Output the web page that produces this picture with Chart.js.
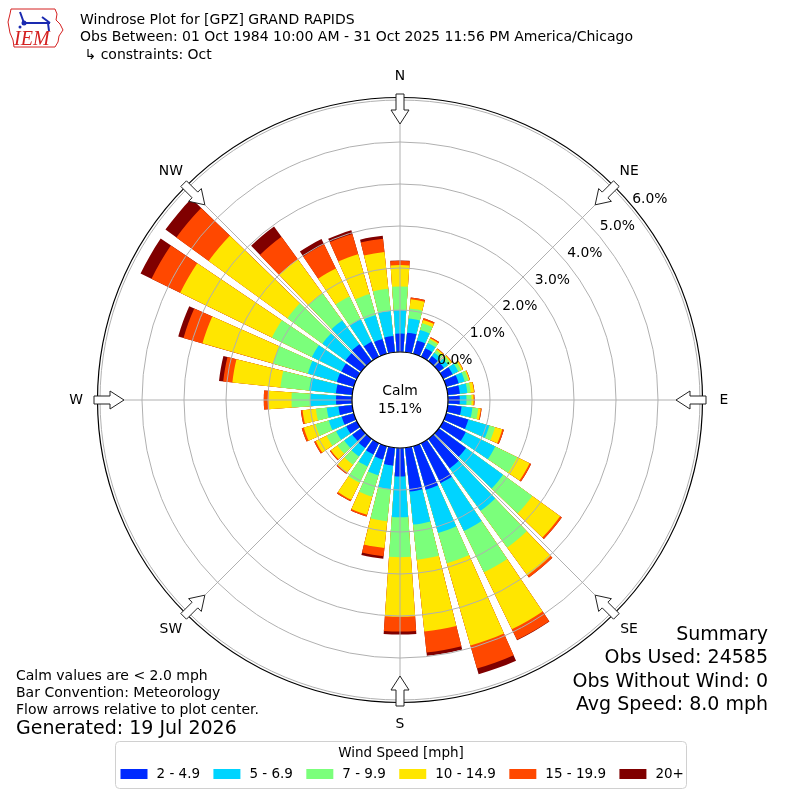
<!DOCTYPE html>
<html>
<head>
<meta charset="utf-8">
<script src="https://cdn.jsdelivr.net/npm/chart.js@4.4.0/dist/chart.umd.min.js"></script>
<style>
  html, body { margin: 0; padding: 0; background: #fff; }
  canvas { display: block; }
</style>
</head>
<body>
<canvas id="rose" width="800" height="800"></canvas>
<script>
// direction the wind blows from, 10 degree bins
const directions = [0,10,20,30,40,50,60,70,80,90,100,110,120,130,140,150,160,170,
                    180,190,200,210,220,230,240,250,260,270,280,290,300,310,320,330,340,350];

// percent of obs in each speed bin
const pct2to5   = [0.44,0.47,0.33,0.23,0.15,0.15,0.25,0.31,0.29,0.28,0.33,0.55,0.60,0.80,0.87,1.06,1.08,1.05,
                   0.68,0.43,0.33,0.30,0.27,0.26,0.28,0.30,0.33,0.38,0.39,0.42,0.41,0.46,0.50,0.40,0.37,0.39];
const pct5to7   = [0.56,0.34,0.26,0.14,0.10,0.12,0.15,0.15,0.18,0.16,0.26,0.52,0.78,1.09,1.25,1.27,1.07,0.79,
                   0.97,0.56,0.39,0.32,0.25,0.24,0.27,0.32,0.28,0.62,0.64,0.72,0.78,0.68,0.70,0.60,0.59,0.60];
const pct7to10  = [0.56,0.24,0.17,0.09,0.07,0.08,0.08,0.09,0.08,0.12,0.14,0.14,0.58,0.86,1.08,1.09,0.75,0.84,
                   0.95,0.77,0.53,0.43,0.24,0.20,0.25,0.33,0.26,0.44,0.69,0.86,1.06,1.03,0.80,0.60,0.52,0.53];
const pct10to15 = [0.51,0.22,0.08,0.03,0.04,0.03,0.04,0.03,0.08,0.05,0.06,0.18,0.33,0.82,0.82,1.51,2.04,1.72,
                   1.42,0.64,0.45,0.45,0.24,0.19,0.29,0.29,0.32,0.55,1.15,1.75,2.43,2.32,1.00,0.74,0.99,0.88];
const pct15to20 = [0.10,0.04,0.04,0.03,0.01,0.01,0.01,0.01,0.01,0.02,0.02,0.04,0.04,0.05,0.06,0.28,0.57,0.50,
                   0.35,0.20,0.04,0.04,0.03,0.03,0.04,0.05,0.04,0.11,0.22,0.47,0.76,0.95,0.66,0.64,0.50,0.32];
const pct20up   = [0.01,0,0,0,0,0,0,0,0,0,0,0,0,0,0,0.01,0.14,0.08,
                   0.07,0.06,0,0,0,0,0,0,0,0,0.10,0.13,0.29,0.32,0.30,0.14,0.09,0.07];

const speedLabels = ['2 - 4.9', '5 - 6.9', '7 - 9.9', '10 - 14.9', '15 - 19.9', '20+'];
const speedColors = ['#002aff', '#00d4ff', '#7bff7b', '#ffe600', '#ff4800', '#800000'];
const ringTicks = [0, 1, 2, 3, 4, 5, 6];
const compass = ['N', 'NE', 'E', 'SE', 'S', 'SW', 'W', 'NW'];
const calmPct = 15.1;

const titleLines = ['Windrose Plot for [GPZ] GRAND RAPIDS',
                    'Obs Between: 01 Oct 1984 10:00 AM - 31 Oct 2025 11:56 PM America/Chicago',
                    ' \u21b3 constraints: Oct'];
const notes = ['Calm values are < 2.0 mph', 'Bar Convention: Meteorology', 'Flow arrows relative to plot center.'];
const generated = 'Generated: 19 Jul 2026';
const summary = ['Summary', 'Obs Used: 24585', 'Obs Without Wind: 0', 'Avg Speed: 8.0 mph'];

const FONT = '"DejaVu Sans", sans-serif';

// stack the bins: each dataset is drawn from the center, slower ones on top
const bins = [pct2to5, pct5to7, pct7to10, pct10to15, pct15to20, pct20up];
const cumulative = [];
let running = directions.map(() => 0);
bins.forEach(b => {
    running = running.map((v, i) => v + b[i]);
    cumulative.push(running.slice());
});

// every direction is followed by an empty slot that makes the gap between bars
const labels = [];
directions.forEach(d => { labels.push(d + '\u00b0'); labels.push(''); });

const datasets = cumulative.map((cum, k) => {
    const data = [];
    cum.forEach(v => { data.push(v); data.push(0); });
    return {
        label: speedLabels[k],
        data: data,
        backgroundColor: c => c.dataIndex % 2 ? 'rgba(0,0,0,0)' : speedColors[k],
        borderWidth: 0,
        angle: c => c.dataIndex % 2 ? 2 : 8
    };
});

function polar(s, r, deg) {
    const t = deg * Math.PI / 180;
    return [s.xCenter + r * Math.sin(t), s.yCenter - r * Math.cos(t)];
}

function drawArrow(ctx, s, deg) {
    // hollow arrow pointing at the center, straddling the outer ring
    const t = deg * Math.PI / 180;
    const ux = Math.sin(t), uy = -Math.cos(t);
    const px = Math.cos(t), py = Math.sin(t);
    const p = (r, o) => [s.xCenter + r * ux + o * px, s.yCenter + r * uy + o * py];
    const pts = [p(306, -4), p(290, -4), p(290, -9), p(276, 0), p(290, 9), p(290, 4), p(306, 4)];
    ctx.beginPath();
    pts.forEach((q, i) => i ? ctx.lineTo(q[0], q[1]) : ctx.moveTo(q[0], q[1]));
    ctx.closePath();
    ctx.fillStyle = '#fff';
    ctx.fill();
    ctx.strokeStyle = '#222';
    ctx.lineWidth = 1;
    ctx.stroke();
}

function drawLogo(ctx) {
    ctx.save();
    ctx.strokeStyle = '#d42020';
    ctx.lineWidth = 1;
    ctx.beginPath();
    ctx.moveTo(11, 9); ctx.lineTo(55, 9); ctx.lineTo(57, 14); ctx.lineTo(56, 20);
    ctx.lineTo(60, 24); ctx.lineTo(63, 30); ctx.lineTo(59, 36); ctx.lineTo(58, 42);
    ctx.lineTo(55, 47); ctx.lineTo(14, 47); ctx.lineTo(13, 40); ctx.lineTo(10, 33);
    ctx.lineTo(8, 22); ctx.lineTo(10, 14); ctx.closePath();
    ctx.stroke();
    ctx.strokeStyle = '#1a2ab0';
    ctx.fillStyle = '#1a2ab0';
    ctx.lineWidth = 2;
    ctx.beginPath();
    ctx.moveTo(24, 23); ctx.lineTo(50, 23);
    ctx.moveTo(20, 12); ctx.lineTo(24, 23);
    ctx.moveTo(42, 17); ctx.lineTo(50, 23);
    ctx.moveTo(48, 23); ctx.lineTo(49, 31);
    ctx.stroke();
    ctx.beginPath(); ctx.arc(24, 23, 2.5, 0, Math.PI * 2); ctx.fill();
    ctx.beginPath(); ctx.arc(20, 27, 1.5, 0, Math.PI * 2); ctx.fill();
    ctx.fillStyle = '#d42020';
    ctx.font = 'italic 20px "Liberation Serif", serif';
    ctx.textBaseline = 'alphabetic';
    ctx.fillText('IEM', 14, 45);
    ctx.restore();
}

const roseDecor = {
    id: 'roseDecor',
    afterDatasetsDraw(chart) {
        const s = chart.scales.r, ctx = chart.ctx;
        const r0 = s.getDistanceFromCenterForValue(0);
        const r6 = s.getDistanceFromCenterForValue(6);
        ctx.save();
        ctx.strokeStyle = '#b0b0b0';
        ctx.lineWidth = 1;
        for (let a = 0; a < 360; a += 45) {
            const a0 = polar(s, r0, a), a1 = polar(s, r6, a);
            ctx.beginPath();
            ctx.moveTo(a0[0], a0[1]);
            ctx.lineTo(a1[0], a1[1]);
            ctx.stroke();
        }
        ctx.restore();
    },
    afterDraw(chart) {
        const s = chart.scales.r, ctx = chart.ctx;
        const r0 = s.getDistanceFromCenterForValue(0);
        const r6 = s.getDistanceFromCenterForValue(6);
        ctx.save();

        // calm circle
        ctx.beginPath();
        ctx.arc(s.xCenter, s.yCenter, r0, 0, Math.PI * 2);
        ctx.fillStyle = '#fff';
        ctx.fill();
        ctx.strokeStyle = '#000';
        ctx.lineWidth = 1.2;
        ctx.stroke();
        ctx.fillStyle = '#000';
        ctx.font = '13.9px ' + FONT;
        ctx.textAlign = 'center';
        ctx.textBaseline = 'middle';
        ctx.fillText('Calm', s.xCenter, s.yCenter - 9);
        ctx.fillText(calmPct.toFixed(1) + '%', s.xCenter, s.yCenter + 9);

        // outer frame
        ctx.beginPath();
        ctx.arc(s.xCenter, s.yCenter, r6 + 2.5, 0, Math.PI * 2);
        ctx.strokeStyle = '#000';
        ctx.lineWidth = 1.2;
        ctx.stroke();

        // arrows and compass labels
        compass.forEach((name, i) => {
            drawArrow(ctx, s, i * 45);
            const q = polar(s, r6 + 24, i * 45);
            ctx.fillStyle = '#000';
            ctx.textAlign = 'center';
            ctx.fillText(name, q[0], q[1]);
        });

        // ring labels
        ctx.textAlign = 'left';
        ringTicks.forEach(v => {
            const r = s.getDistanceFromCenterForValue(v);
            ctx.fillText(v.toFixed(1) + '%', s.xCenter + r * 0.774, s.yCenter - r * 0.638 - 8.9);
        });

        // header
        drawLogo(ctx);
        ctx.fillStyle = '#000';
        ctx.textAlign = 'left';
        ctx.font = '14px ' + FONT;
        titleLines.forEach((t, i) => ctx.fillText(t, 80, 20 + i * 17.5));

        // notes bottom left
        notes.forEach((t, i) => ctx.fillText(t, 16, 676 + i * 17));
        ctx.font = '19px ' + FONT;
        ctx.fillText(generated, 16, 729);

        // summary bottom right
        ctx.textAlign = 'right';
        summary.forEach((t, i) => ctx.fillText(t, 768, 635 + i * 23.5));

        // legend
        ctx.beginPath();
        ctx.roundRect(115.5, 741.5, 571, 47, 4);
        ctx.fillStyle = 'rgba(255,255,255,0.9)';
        ctx.fill();
        ctx.strokeStyle = '#d0d0d0';
        ctx.lineWidth = 1;
        ctx.stroke();
        ctx.fillStyle = '#000';
        ctx.textAlign = 'center';
        ctx.font = '13.5px ' + FONT;
        ctx.fillText('Wind Speed [mph]', 401, 753);
        ctx.textAlign = 'left';
        let x = 120.5;
        speedLabels.forEach((lab, k) => {
            ctx.fillStyle = speedColors[k];
            ctx.fillRect(x, 769, 27, 10);
            ctx.fillStyle = '#000';
            ctx.fillText(lab, x + 36, 774.5);
            x += 36 + ctx.measureText(lab).width + 13.4;
        });

        ctx.restore();
    }
};

new Chart(document.getElementById('rose'), {
    type: 'polarArea',
    data: { labels: labels, datasets: datasets },
    options: {
        responsive: false,
        animation: false,
        layout: { padding: 100 },
        plugins: { legend: { display: false }, tooltip: { enabled: false } },
        scales: {
            r: {
                min: -8 / 7,
                max: 6,
                startAngle: -4,
                afterBuildTicks: sc => { sc.ticks = ringTicks.map(v => ({ value: v })); },
                ticks: { display: false },
                grid: { circular: true, color: '#b0b0b0', lineWidth: 1, z: 1 },
                angleLines: { display: false },
                pointLabels: { display: false }
            }
        }
    },
    plugins: [roseDecor]
});
</script>
</body>
</html>
